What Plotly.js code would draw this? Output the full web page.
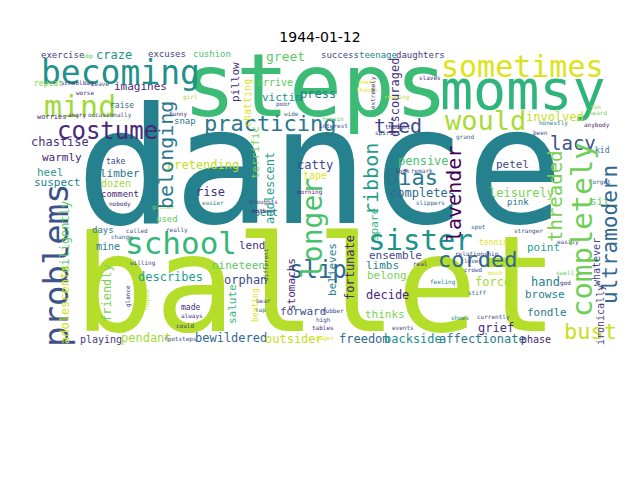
<!DOCTYPE html>
<html>
<head>
<meta charset="utf-8">
<script src="https://cdn.plot.ly/plotly-3.0.1.min.js"></script>
<style>html,body{margin:0;padding:0;background:#fff}#chart{width:640px;height:480px}</style>
</head>
<body>
<div id="chart"></div>
<script>
// Horizontal words: text, centre x, centre y (image pixels), weight (font px), colour
const hWords = ["dance","ballet","steps","momsy","becoming","sometimes","mind","would","school","sister","costume","practicing","slip","corded","bias","tied","lacy","bust",
"exercise","craze","excuses","cushion","greet","success","teenage","daughters","repeat","imagines","arrive","victim","press","raise","worries","snap","involved",
"chastise","warmly","heel","suspect","take","limber","dozen","comment","pretending","rise","used","days","catty","tape","spent","pensive","completes","petel","leisurely","pink","sit","kid",
"mine","lend","nineteen","describes","orphan","ensemble","limbs","belong","decide","forward","thinks","tennis","point","force","hand","browse","fondle","grief","made",
"playing","pendant","bewildered","outsider","freedom","backside","affectionate","phase",
"schoolbag","leave","worse","imp","angry","occasionally","funny","girl","poor","wide","every","though","remain","interest","spirits","thought","reading","slaves","grand","been","honestly","jan","heard","anybody",
"look","remark","slippers","morning","thoughts","mother","easier","nobody","gotten","called","really","change","willing","spot","stranger","easily","relationship","loves","crowd","much","feeling","swell","god","stiff","currently","shoes","real","events","high","tables","rubber","tap","bear","always","could","footsteps","pages","forget"];
const hX = [320,316,315,523,120,522,80,485,181,420,107,270,318,477,411,398,573,590,
62,114,167,212,285,340,378,420,48,140,275,282,318,122,52,185,555,
60,62,50,57,115,120,116,120,203,210,167,103,315,315,263,423,422,512,521,518,600,602,
108,252,238,170,245,395,382,387,387,303,385,493,543,493,545,545,547,496,190,
101,146,231,294,364,413,482,536,
77,100,85,87,77,110,178,190,283,291,367,367,333,333,388,398,397,430,465,540,553,595,598,597,
402,422,430,310,263,263,213,120,163,137,177,122,143,478,528,568,477,473,473,495,443,565,565,477,493,460,420,403,323,323,333,260,263,192,185,180,325,600];
const hY = [167,285,85,90,72,66,106,120,243,240,131,123,270,259,177,126,143,331,
55,55,54,54,56,55,55,55,83,86,82,97,94,105,117,121,117,
142,157,172,182,161,173,183,194,165,192,219,230,165,175,212,161,193,164,193,202,201,150,
246,245,265,277,280,255,265,275,295,311,314,242,247,282,282,294,312,328,307,
339,338,338,339,339,339,339,339,
83,83,92,56,115,115,114,97,104,113,82,90,118,125,133,127,97,77,137,132,123,107,112,125,
170,170,203,192,202,210,202,204,207,230,230,237,263,227,231,242,254,260,269,272,282,272,283,292,317,317,263,327,320,327,310,310,300,316,325,339,338,182];
const hSize = [162,134,88,55,33,30,30,27,31,29,24,22,24,22,22,20,19,22,
9,12,9,9,13,9,9,9,8,11,10,11,12,8,7,9,12,
12,11,11,11,8,11,10,9,12,12,9,9,12,10,10,12,12,11,12,9,11,8,
10,11,11,12,12,11,11,11,12,11,11,8,11,12,12,11,11,12,8,
10,12,12,12,12,12,12,10,
6,6,6,6,6,6,6,6,6,6,6,6,6,6,6,6,6,6,6,6,6,6,6,6,
6,6,6,6,6,6,6,6,6,6,6,6,6,6,6,6,6,6,6,6,6,6,6,6,6,6,6,6,6,6,6,6,6,6,6,6,6,6];
const hColor = ["#26818e","#b5de2b","#3bbb75","#2fb47c","#21918c","#dde318","#a0da39","#a8db34","#35b779","#21918c","#482878","#2a788e","#31688e","#31688e","#2a788e","#3e4a89","#3b528b","#c8e020",
"#443983","#21918c","#433e85","#4ac16d","#5ec962","#3e4989","#26828e","#443a83","#7ad151","#482878","#5ec962","#21918c","#26828e","#31688e","#482878","#2a788e","#c2df23",
"#46337e","#482878","#1f9e89","#26828e","#3e4a89","#2a788e","#a0da39","#482878","#c2df23","#472f7d","#5ec962","#2a788e","#3e4a89","#dde318","#2a788e","#4ac16d","#31688e","#3e4a89","#7ad151","#2a788e","#5ec962","#2a788e",
"#2a788e","#46327e","#5ec962","#1f9e89","#3e4a89","#3e4a89","#26828e","#7ad151","#482878","#3b528b","#7ad151","#dde318","#1f9e89","#a0da39","#26828e","#26828e","#2a788e","#472c7a","#482878",
"#443983","#a0da39","#31688e","#c2df23","#31688e","#21918c","#2a788e","#482878",
"#482878","#3e4a89","#482878","#5ec962","#482878","#3e4a89","#482878","#a0da39","#3e4a89","#31688e","#dde318","#dde318","#5ec962","#3e4a89","#3e4a89","#46327e","#b5de2b","#482878","#31688e","#3e4a89","#26828e","#a0da39","#7ad151","#482878",
"#482878","#3e4a89","#31688e","#482878","#3e4a89","#482878","#26828e","#482878","#7ad151","#3e4a89","#3e4a89","#31688e","#3e4a89","#31688e","#3e4a89","#3e4a89","#3e4a89","#3e4a89","#3e4a89","#dde318","#26828e","#5ec962","#482878","#31688e","#3e4a89","#26828e","#482878","#3e4a89","#3e4a89","#482878","#3e4a89","#31688e","#3e4a89","#46327e","#46327e","#3e4a89","#dde318","#31688e","#3e4a89","#31688e"];

// Vertical words (read bottom to top)
const vWords = ["problems","belonging","longer","ribbon","lavender","threaded","completely","ultramodern","diligently","adolescents","adolescent","terrific","pillow","chatting","discouraged","friendly","salute","beating","stomachs","believes","fortunate","spare","whatever","ironically","hoped","glance","different","extremely"];
const vX = [56,166,312,371,454,555,582,610,65,65,270,255,235,247,395,107,232,255,291,332,350,374,596,600,147,128,265,373];
const vY = [265,155,229,179,194,196,230,235,237,305,188,153,82,103,98,293,304,305,285,270,268,225,262,315,300,296,265,93];
const vSize = [34,20,28,20,20,19,29,21,12,12,12,11,11,10,12,12,11,8,11,11,12,11,10,10,7,6,6,6];
const vColor = ["#3b528b","#2a788e","#4ac16d","#1f9e89","#440154","#7ad151","#6ece58","#31688e","#5ec962","#d2e21b","#1f9e89","#7ad151","#472c7a","#dde318","#46327e","#7ad151","#35b779","#dde318","#482878","#26828e","#482878","#35b779","#3e4a89","#443983","#c2df23","#482878","#3e4a89","#46327e"];

const FONT = "DejaVu Sans Mono, Droid Sans Mono, monospace";
const annotations = [];
hWords.forEach((w, i) => annotations.push({
  text: w, x: hX[i], y: hY[i], xref: "x", yref: "y", showarrow: false,
  xanchor: "center", yanchor: "middle", borderpad: 0,
  font: {family: FONT, size: hSize[i], color: hColor[i]}
}));
vWords.forEach((w, i) => annotations.push({
  text: w, x: vX[i], y: vY[i], xref: "x", yref: "y", showarrow: false, textangle: -90,
  xanchor: "center", yanchor: "middle", borderpad: 0,
  font: {family: FONT, size: vSize[i], color: vColor[i]}
}));

const layout = {
  width: 640, height: 480,
  margin: {l: 0, r: 0, t: 0, b: 0},
  paper_bgcolor: "#ffffff", plot_bgcolor: "#ffffff",
  title: {text: "1944-01-12", x: 0.5, xanchor: "center", y: 1 - 37/480, yanchor: "middle", yref: "container",
          font: {family: "DejaVu Sans, sans-serif", size: 14, color: "#000000"}},
  xaxis: {range: [0, 640], visible: false, fixedrange: true},
  yaxis: {range: [480, 0], visible: false, fixedrange: true},
  showlegend: false,
  annotations: annotations
};
Plotly.newPlot("chart", [{x: [], y: [], type: "scatter", mode: "text", hoverinfo: "skip"}], layout, {displayModeBar: false, staticPlot: true});
</script>
</body>
</html>
